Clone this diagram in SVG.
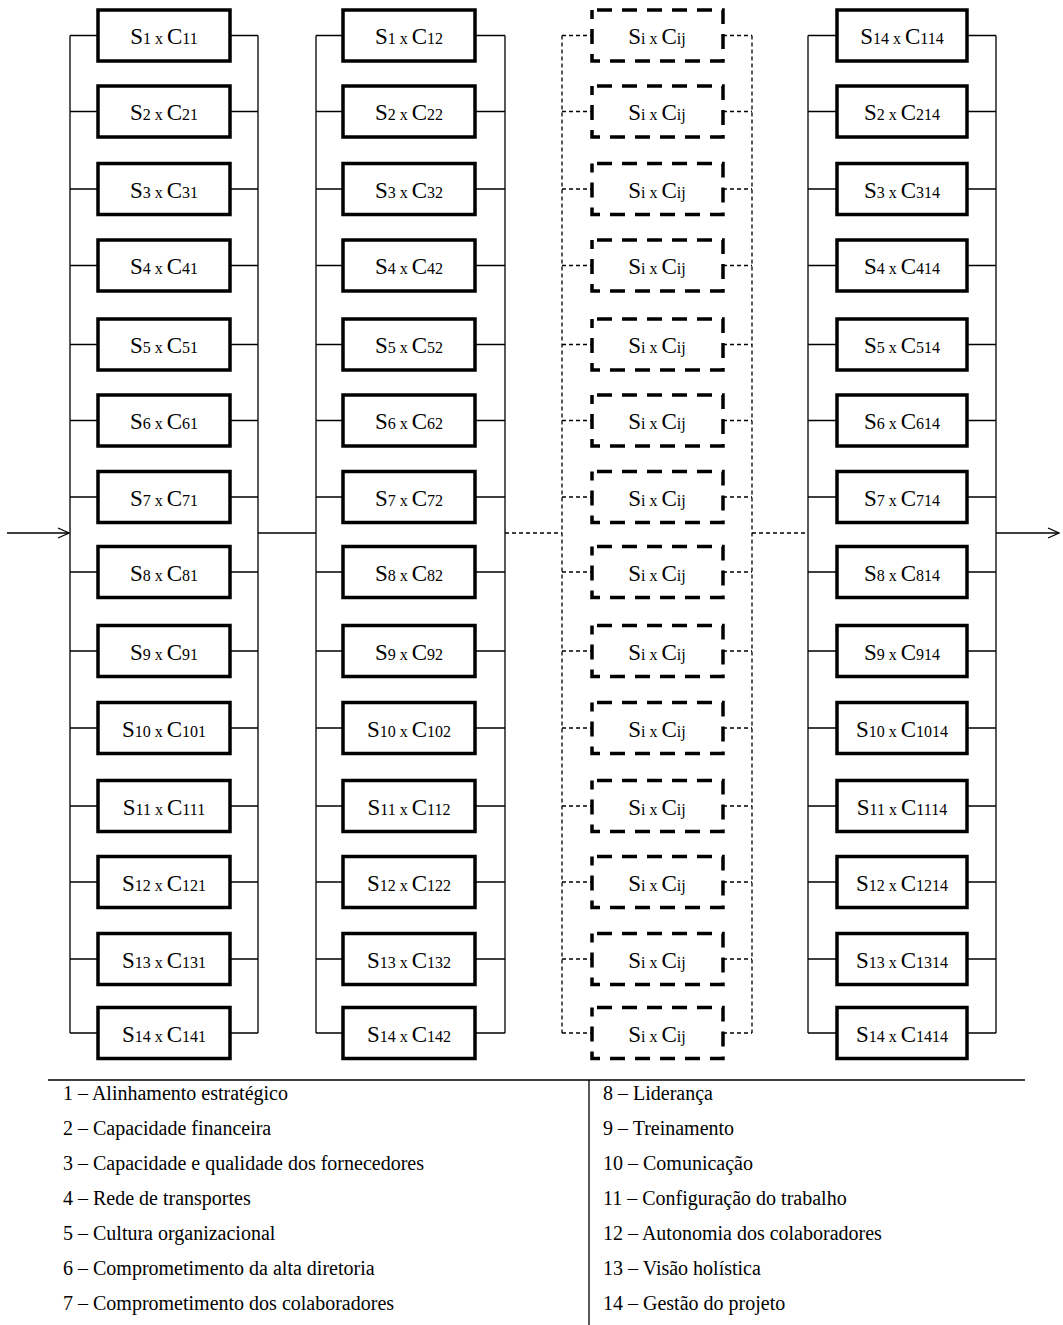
<svg xmlns="http://www.w3.org/2000/svg" width="1063" height="1325" viewBox="0 0 1063 1325">
<defs>
<style>
.box{fill:#fff;stroke:#000;stroke-width:3.5}
.dbox{fill:#fff;stroke:#000;stroke-width:3.5;stroke-dasharray:15 10;stroke-dashoffset:20}
.wire{fill:none;stroke:#000;stroke-width:1.3}
.dwire{fill:none;stroke:#000;stroke-width:1.3;stroke-dasharray:4 3}
.lbl{font-family:"Liberation Serif","Times New Roman",serif;font-size:16px;text-anchor:middle;fill:#000}
.big{font-size:23px}
.leg{font-family:"Liberation Serif","Times New Roman",serif;font-size:20px;fill:#000}
</style>
<marker id="arr" markerWidth="14" markerHeight="12" refX="12" refY="6" orient="auto" markerUnits="userSpaceOnUse">
<path d="M1 1L12 6L1 11" fill="none" stroke="#000" stroke-width="1.3"/>
</marker>
</defs>
<rect width="1063" height="1325" fill="#fff"/>
<g id="connectors">
<path class="wire" d="M7 533H69" marker-end="url(#arr)"/>
<path class="wire" d="M996 533H1059" marker-end="url(#arr)"/>
<path class="wire" d="M258 533H316"/>
<path class="dwire" d="M505 533H562"/>
<path class="dwire" d="M752 533H808"/>
<path class="wire" d="M70 35.5V1033M258 35.5V1033M70 35.5H98M70 111.5H98M70 189H98M70 265.5H98M70 344.5H98M70 420.5H98M70 497H98M70 572H98M70 651H98M70 728H98M70 806H98M70 882H98M70 959H98M70 1033H98M230 35.5H258M230 111.5H258M230 189H258M230 265.5H258M230 344.5H258M230 420.5H258M230 497H258M230 572H258M230 651H258M230 728H258M230 806H258M230 882H258M230 959H258M230 1033H258"/>
<path class="wire" d="M316 35.5V1033M505 35.5V1033M316 35.5H343M316 111.5H343M316 189H343M316 265.5H343M316 344.5H343M316 420.5H343M316 497H343M316 572H343M316 651H343M316 728H343M316 806H343M316 882H343M316 959H343M316 1033H343M475 35.5H505M475 111.5H505M475 189H505M475 265.5H505M475 344.5H505M475 420.5H505M475 497H505M475 572H505M475 651H505M475 728H505M475 806H505M475 882H505M475 959H505M475 1033H505"/>
<path class="dwire" d="M562 35.5V1033M752 35.5V1033M562 35.5H592M562 111.5H592M562 189H592M562 265.5H592M562 344.5H592M562 420.5H592M562 497H592M562 572H592M562 651H592M562 728H592M562 806H592M562 882H592M562 959H592M562 1033H592M723 35.5H752M723 111.5H752M723 189H752M723 265.5H752M723 344.5H752M723 420.5H752M723 497H752M723 572H752M723 651H752M723 728H752M723 806H752M723 882H752M723 959H752M723 1033H752"/>
<path class="wire" d="M808 35.5V1033M996 35.5V1033M808 35.5H837M808 111.5H837M808 189H837M808 265.5H837M808 344.5H837M808 420.5H837M808 497H837M808 572H837M808 651H837M808 728H837M808 806H837M808 882H837M808 959H837M808 1033H837M967 35.5H996M967 111.5H996M967 189H996M967 265.5H996M967 344.5H996M967 420.5H996M967 497H996M967 572H996M967 651H996M967 728H996M967 806H996M967 882H996M967 959H996M967 1033H996"/>
</g>
<!-- Column 1 -->
<g id="n1_1"><rect class="box" x="98" y="10" width="132" height="51"/><text class="lbl" x="164" y="44"><tspan class="big">S</tspan>1 x <tspan class="big">C</tspan>11</text></g>
<g id="n2_1"><rect class="box" x="98" y="86" width="132" height="51"/><text class="lbl" x="164" y="120"><tspan class="big">S</tspan>2 x <tspan class="big">C</tspan>21</text></g>
<g id="n3_1"><rect class="box" x="98" y="163.5" width="132" height="51"/><text class="lbl" x="164" y="197.5"><tspan class="big">S</tspan>3 x <tspan class="big">C</tspan>31</text></g>
<g id="n4_1"><rect class="box" x="98" y="240" width="132" height="51"/><text class="lbl" x="164" y="274"><tspan class="big">S</tspan>4 x <tspan class="big">C</tspan>41</text></g>
<g id="n5_1"><rect class="box" x="98" y="319" width="132" height="51"/><text class="lbl" x="164" y="353"><tspan class="big">S</tspan>5 x <tspan class="big">C</tspan>51</text></g>
<g id="n6_1"><rect class="box" x="98" y="395" width="132" height="51"/><text class="lbl" x="164" y="429"><tspan class="big">S</tspan>6 x <tspan class="big">C</tspan>61</text></g>
<g id="n7_1"><rect class="box" x="98" y="471.5" width="132" height="51"/><text class="lbl" x="164" y="505.5"><tspan class="big">S</tspan>7 x <tspan class="big">C</tspan>71</text></g>
<g id="n8_1"><rect class="box" x="98" y="546.5" width="132" height="51"/><text class="lbl" x="164" y="580.5"><tspan class="big">S</tspan>8 x <tspan class="big">C</tspan>81</text></g>
<g id="n9_1"><rect class="box" x="98" y="625.5" width="132" height="51"/><text class="lbl" x="164" y="659.5"><tspan class="big">S</tspan>9 x <tspan class="big">C</tspan>91</text></g>
<g id="n10_1"><rect class="box" x="98" y="702.5" width="132" height="51"/><text class="lbl" x="164" y="736.5"><tspan class="big">S</tspan>10 x <tspan class="big">C</tspan>101</text></g>
<g id="n11_1"><rect class="box" x="98" y="780.5" width="132" height="51"/><text class="lbl" x="164" y="814.5"><tspan class="big">S</tspan>11 x <tspan class="big">C</tspan>111</text></g>
<g id="n12_1"><rect class="box" x="98" y="856.5" width="132" height="51"/><text class="lbl" x="164" y="890.5"><tspan class="big">S</tspan>12 x <tspan class="big">C</tspan>121</text></g>
<g id="n13_1"><rect class="box" x="98" y="933.5" width="132" height="51"/><text class="lbl" x="164" y="967.5"><tspan class="big">S</tspan>13 x <tspan class="big">C</tspan>131</text></g>
<g id="n14_1"><rect class="box" x="98" y="1007.5" width="132" height="51"/><text class="lbl" x="164" y="1041.5"><tspan class="big">S</tspan>14 x <tspan class="big">C</tspan>141</text></g>
<!-- Column 2 -->
<g id="n1_2"><rect class="box" x="343" y="10" width="132" height="51"/><text class="lbl" x="409" y="44"><tspan class="big">S</tspan>1 x <tspan class="big">C</tspan>12</text></g>
<g id="n2_2"><rect class="box" x="343" y="86" width="132" height="51"/><text class="lbl" x="409" y="120"><tspan class="big">S</tspan>2 x <tspan class="big">C</tspan>22</text></g>
<g id="n3_2"><rect class="box" x="343" y="163.5" width="132" height="51"/><text class="lbl" x="409" y="197.5"><tspan class="big">S</tspan>3 x <tspan class="big">C</tspan>32</text></g>
<g id="n4_2"><rect class="box" x="343" y="240" width="132" height="51"/><text class="lbl" x="409" y="274"><tspan class="big">S</tspan>4 x <tspan class="big">C</tspan>42</text></g>
<g id="n5_2"><rect class="box" x="343" y="319" width="132" height="51"/><text class="lbl" x="409" y="353"><tspan class="big">S</tspan>5 x <tspan class="big">C</tspan>52</text></g>
<g id="n6_2"><rect class="box" x="343" y="395" width="132" height="51"/><text class="lbl" x="409" y="429"><tspan class="big">S</tspan>6 x <tspan class="big">C</tspan>62</text></g>
<g id="n7_2"><rect class="box" x="343" y="471.5" width="132" height="51"/><text class="lbl" x="409" y="505.5"><tspan class="big">S</tspan>7 x <tspan class="big">C</tspan>72</text></g>
<g id="n8_2"><rect class="box" x="343" y="546.5" width="132" height="51"/><text class="lbl" x="409" y="580.5"><tspan class="big">S</tspan>8 x <tspan class="big">C</tspan>82</text></g>
<g id="n9_2"><rect class="box" x="343" y="625.5" width="132" height="51"/><text class="lbl" x="409" y="659.5"><tspan class="big">S</tspan>9 x <tspan class="big">C</tspan>92</text></g>
<g id="n10_2"><rect class="box" x="343" y="702.5" width="132" height="51"/><text class="lbl" x="409" y="736.5"><tspan class="big">S</tspan>10 x <tspan class="big">C</tspan>102</text></g>
<g id="n11_2"><rect class="box" x="343" y="780.5" width="132" height="51"/><text class="lbl" x="409" y="814.5"><tspan class="big">S</tspan>11 x <tspan class="big">C</tspan>112</text></g>
<g id="n12_2"><rect class="box" x="343" y="856.5" width="132" height="51"/><text class="lbl" x="409" y="890.5"><tspan class="big">S</tspan>12 x <tspan class="big">C</tspan>122</text></g>
<g id="n13_2"><rect class="box" x="343" y="933.5" width="132" height="51"/><text class="lbl" x="409" y="967.5"><tspan class="big">S</tspan>13 x <tspan class="big">C</tspan>132</text></g>
<g id="n14_2"><rect class="box" x="343" y="1007.5" width="132" height="51"/><text class="lbl" x="409" y="1041.5"><tspan class="big">S</tspan>14 x <tspan class="big">C</tspan>142</text></g>
<!-- Column 3 (generic) -->
<g id="n1_j"><rect class="dbox" x="592" y="10" width="131" height="51"/><text class="lbl" x="657" y="44"><tspan class="big">S</tspan>i x <tspan class="big">C</tspan>ij</text></g>
<g id="n2_j"><rect class="dbox" x="592" y="86" width="131" height="51"/><text class="lbl" x="657" y="120"><tspan class="big">S</tspan>i x <tspan class="big">C</tspan>ij</text></g>
<g id="n3_j"><rect class="dbox" x="592" y="163.5" width="131" height="51"/><text class="lbl" x="657" y="197.5"><tspan class="big">S</tspan>i x <tspan class="big">C</tspan>ij</text></g>
<g id="n4_j"><rect class="dbox" x="592" y="240" width="131" height="51"/><text class="lbl" x="657" y="274"><tspan class="big">S</tspan>i x <tspan class="big">C</tspan>ij</text></g>
<g id="n5_j"><rect class="dbox" x="592" y="319" width="131" height="51"/><text class="lbl" x="657" y="353"><tspan class="big">S</tspan>i x <tspan class="big">C</tspan>ij</text></g>
<g id="n6_j"><rect class="dbox" x="592" y="395" width="131" height="51"/><text class="lbl" x="657" y="429"><tspan class="big">S</tspan>i x <tspan class="big">C</tspan>ij</text></g>
<g id="n7_j"><rect class="dbox" x="592" y="471.5" width="131" height="51"/><text class="lbl" x="657" y="505.5"><tspan class="big">S</tspan>i x <tspan class="big">C</tspan>ij</text></g>
<g id="n8_j"><rect class="dbox" x="592" y="546.5" width="131" height="51"/><text class="lbl" x="657" y="580.5"><tspan class="big">S</tspan>i x <tspan class="big">C</tspan>ij</text></g>
<g id="n9_j"><rect class="dbox" x="592" y="625.5" width="131" height="51"/><text class="lbl" x="657" y="659.5"><tspan class="big">S</tspan>i x <tspan class="big">C</tspan>ij</text></g>
<g id="n10_j"><rect class="dbox" x="592" y="702.5" width="131" height="51"/><text class="lbl" x="657" y="736.5"><tspan class="big">S</tspan>i x <tspan class="big">C</tspan>ij</text></g>
<g id="n11_j"><rect class="dbox" x="592" y="780.5" width="131" height="51"/><text class="lbl" x="657" y="814.5"><tspan class="big">S</tspan>i x <tspan class="big">C</tspan>ij</text></g>
<g id="n12_j"><rect class="dbox" x="592" y="856.5" width="131" height="51"/><text class="lbl" x="657" y="890.5"><tspan class="big">S</tspan>i x <tspan class="big">C</tspan>ij</text></g>
<g id="n13_j"><rect class="dbox" x="592" y="933.5" width="131" height="51"/><text class="lbl" x="657" y="967.5"><tspan class="big">S</tspan>i x <tspan class="big">C</tspan>ij</text></g>
<g id="n14_j"><rect class="dbox" x="592" y="1007.5" width="131" height="51"/><text class="lbl" x="657" y="1041.5"><tspan class="big">S</tspan>i x <tspan class="big">C</tspan>ij</text></g>
<!-- Column 4 -->
<g id="n1_14"><rect class="box" x="837" y="10" width="130" height="51"/><text class="lbl" x="902" y="44"><tspan class="big">S</tspan>14 x <tspan class="big">C</tspan>114</text></g>
<g id="n2_14"><rect class="box" x="837" y="86" width="130" height="51"/><text class="lbl" x="902" y="120"><tspan class="big">S</tspan>2 x <tspan class="big">C</tspan>214</text></g>
<g id="n3_14"><rect class="box" x="837" y="163.5" width="130" height="51"/><text class="lbl" x="902" y="197.5"><tspan class="big">S</tspan>3 x <tspan class="big">C</tspan>314</text></g>
<g id="n4_14"><rect class="box" x="837" y="240" width="130" height="51"/><text class="lbl" x="902" y="274"><tspan class="big">S</tspan>4 x <tspan class="big">C</tspan>414</text></g>
<g id="n5_14"><rect class="box" x="837" y="319" width="130" height="51"/><text class="lbl" x="902" y="353"><tspan class="big">S</tspan>5 x <tspan class="big">C</tspan>514</text></g>
<g id="n6_14"><rect class="box" x="837" y="395" width="130" height="51"/><text class="lbl" x="902" y="429"><tspan class="big">S</tspan>6 x <tspan class="big">C</tspan>614</text></g>
<g id="n7_14"><rect class="box" x="837" y="471.5" width="130" height="51"/><text class="lbl" x="902" y="505.5"><tspan class="big">S</tspan>7 x <tspan class="big">C</tspan>714</text></g>
<g id="n8_14"><rect class="box" x="837" y="546.5" width="130" height="51"/><text class="lbl" x="902" y="580.5"><tspan class="big">S</tspan>8 x <tspan class="big">C</tspan>814</text></g>
<g id="n9_14"><rect class="box" x="837" y="625.5" width="130" height="51"/><text class="lbl" x="902" y="659.5"><tspan class="big">S</tspan>9 x <tspan class="big">C</tspan>914</text></g>
<g id="n10_14"><rect class="box" x="837" y="702.5" width="130" height="51"/><text class="lbl" x="902" y="736.5"><tspan class="big">S</tspan>10 x <tspan class="big">C</tspan>1014</text></g>
<g id="n11_14"><rect class="box" x="837" y="780.5" width="130" height="51"/><text class="lbl" x="902" y="814.5"><tspan class="big">S</tspan>11 x <tspan class="big">C</tspan>1114</text></g>
<g id="n12_14"><rect class="box" x="837" y="856.5" width="130" height="51"/><text class="lbl" x="902" y="890.5"><tspan class="big">S</tspan>12 x <tspan class="big">C</tspan>1214</text></g>
<g id="n13_14"><rect class="box" x="837" y="933.5" width="130" height="51"/><text class="lbl" x="902" y="967.5"><tspan class="big">S</tspan>13 x <tspan class="big">C</tspan>1314</text></g>
<g id="n14_14"><rect class="box" x="837" y="1007.5" width="130" height="51"/><text class="lbl" x="902" y="1041.5"><tspan class="big">S</tspan>14 x <tspan class="big">C</tspan>1414</text></g>
<!-- Legend -->
<g id="legend">
<path class="wire" d="M48 1080H1025M589 1080V1325"/>
<text class="leg" x="63" y="1100">1 – Alinhamento estratégico</text>
<text class="leg" x="63" y="1135">2 – Capacidade financeira</text>
<text class="leg" x="63" y="1170">3 – Capacidade e qualidade dos fornecedores</text>
<text class="leg" x="63" y="1205">4 – Rede de transportes</text>
<text class="leg" x="63" y="1240">5 – Cultura organizacional</text>
<text class="leg" x="63" y="1275">6 – Comprometimento da alta diretoria</text>
<text class="leg" x="63" y="1310">7 – Comprometimento dos colaboradores</text>
<text class="leg" x="603" y="1100">8 – Liderança</text>
<text class="leg" x="603" y="1135">9 – Treinamento</text>
<text class="leg" x="603" y="1170">10 – Comunicação</text>
<text class="leg" x="603" y="1205">11 – Configuração do trabalho</text>
<text class="leg" x="603" y="1240">12 – Autonomia dos colaboradores</text>
<text class="leg" x="603" y="1275">13 – Visão holística</text>
<text class="leg" x="603" y="1310">14 – Gestão do projeto</text>
</g>
</svg>
